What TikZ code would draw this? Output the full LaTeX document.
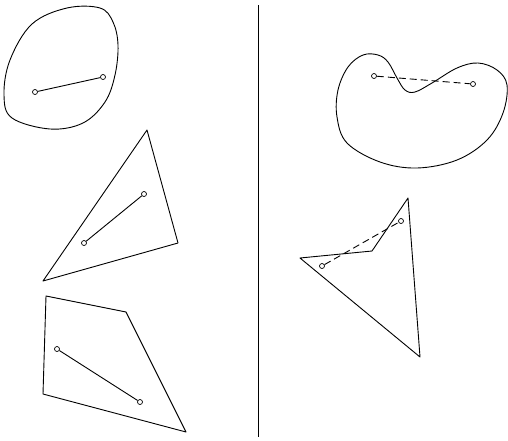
\documentclass[tikz,border=0pt]{standalone}
\begin{document}
\begin{tikzpicture}[x=1pt,y=-1pt,line width=0.9pt,
  pt/.style={circle,draw,fill=white,inner sep=0pt,minimum size=5pt,line width=0.7pt},
  seg/.style={line width=0.9pt},
  dseg/.style={line width=0.9pt,dash pattern=on 7pt off 4pt}]
\useasboundingbox (0,0) rectangle (508,440);
% divider
\coordinate (vt) at (258,5);
\coordinate (vb) at (258,437);
\draw (vt) -- (vb);
% left blob
\draw plot[smooth cycle,tension=0.6] coordinates {(100,8) (113,22) (118,45) (115,75) (105,102) (83,123) (50,129) (12,118) (4,95) (10,60) (32,24) (67,8)};
\node[pt] (a1) at (35,92) {};
\node[pt] (a2) at (103,77) {};
\draw[seg] (a1) -- (a2);
% left triangle
\draw[line join=round] (147,130) -- (178,243) -- (43,281) -- cycle;
\node[pt] (b1) at (84,243) {};
\node[pt] (b2) at (144,194) {};
\draw[seg] (b1) -- (b2);
% left quadrilateral
\draw[line join=round] (46,296) -- (126,312) -- (186,432) -- (43,394) -- cycle;
\node[pt] (c1) at (57,349) {};
\node[pt] (c2) at (140,402) {};
\draw[seg] (c1) -- (c2);
% right blob
\draw plot[smooth cycle,tension=0.6] coordinates {(363,55) (378,55) (388,62) (397,78) (405,90) (415,92) (432,83) (457,68) (478,63) (497,70) (507,85) (503,113) (487,140) (457,160) (417,168) (380,162) (347,143) (337,117) (338,90) (348,67)};
\node[pt] (d1) at (374,76) {};
\node[pt] (d2) at (473,84) {};
\draw[dseg] (d1) -- (d2);
% right polygon
\draw[line join=round] (300,258) -- (372,251) -- (408,198) -- (420,357) -- cycle;
\node[pt] (e1) at (322,266) {};
\node[pt] (e2) at (401,221) {};
\draw[dseg] (e1) -- (e2);
\end{tikzpicture}
\end{document}
